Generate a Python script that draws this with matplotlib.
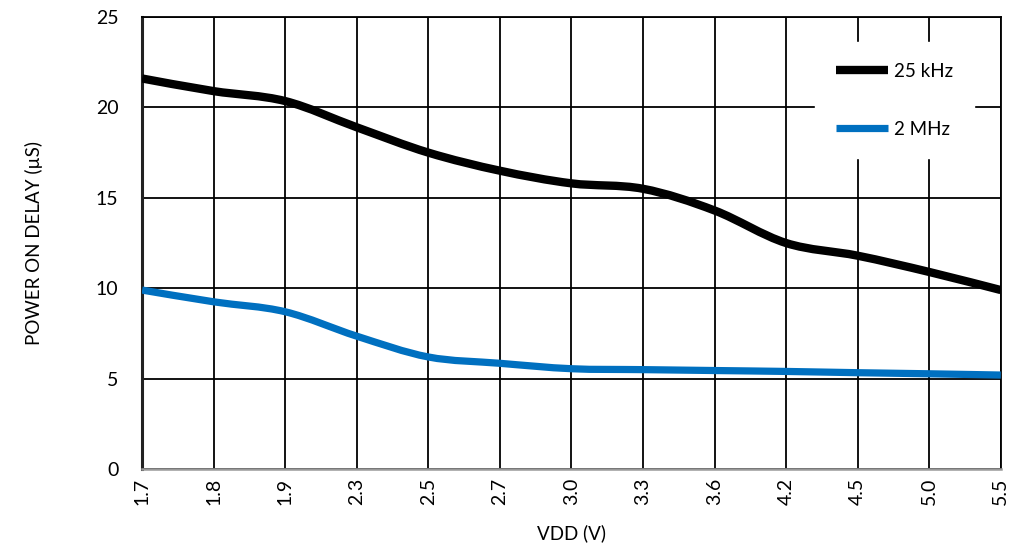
import numpy as np
import matplotlib.pyplot as plt
from matplotlib.path import Path
from matplotlib.patches import PathPatch
from matplotlib.lines import Line2D

plt.rcParams['font.family'] = ['Lato', 'DejaVu Sans']

vdd_labels = ['1.7', '1.8', '1.9', '2.3', '2.5', '2.7', '3.0', '3.3', '3.6', '4.2', '4.5', '5.0', '5.5']
delay_25khz = [21.6, 20.9, 20.35, 18.9, 17.5, 16.5, 15.8, 15.5, 14.3, 12.5, 11.8, 10.9, 9.9]
delay_2mhz = [9.9, 9.25, 8.7, 7.35, 6.2, 5.85, 5.55, 5.5, 5.45, 5.4, 5.33, 5.27, 5.2]


def smooth_path(xs, ys):
    # excel style smoothed line: cubic bezier through every point
    pts = np.column_stack([xs, ys]).astype(float)
    n = len(pts)
    verts = [pts[0]]
    codes = [Path.MOVETO]
    for i in range(n - 1):
        p0 = pts[max(i - 1, 0)]
        p1 = pts[i]
        p2 = pts[i + 1]
        p3 = pts[min(i + 2, n - 1)]
        c1 = p1 + (p2 - p0) / 6
        c2 = p2 - (p3 - p1) / 6
        verts += [c1, c2, p2]
        codes += [Path.CURVE4] * 3
    return Path(verts, codes)


fig = plt.figure(figsize=(10.15, 5.48), dpi=100)
ax = fig.add_axes([0.14, 0.144, 0.846, 0.825])

x = np.arange(len(vdd_labels))
series = [(delay_25khz, 'black', 6.0, '25 kHz'), (delay_2mhz, '#0070C0', 5.2, '2 MHz')]
handles = []
for vals, col, lw, lab in series:
    patch = PathPatch(smooth_path(x, vals), fill=False, edgecolor=col, lw=lw,
                      capstyle='butt', joinstyle='round', zorder=3)
    ax.add_patch(patch)
    handles.append(Line2D([], [], color=col, lw=lw, solid_capstyle='butt', label=lab))

ax.set_xlim(0, len(vdd_labels) - 1)
ax.set_ylim(0, 25)
ax.set_xticks(x)
ax.set_xticklabels(vdd_labels, rotation=90)
ax.set_yticks([0, 5, 10, 15, 20, 25])
ax.tick_params(axis='y', length=0, pad=17, labelsize=14)
ax.tick_params(axis='x', length=0, pad=6, labelsize=14)

ax.grid(True, color='black', lw=1.3)
ax.set_axisbelow(True)
for s in ['top', 'right']:
    ax.spines[s].set_linewidth(1.3)
ax.spines['left'].set_linewidth(2.2)
ax.spines['left'].set_color('#222222')
ax.spines['bottom'].set_linewidth(1.8)
ax.spines['bottom'].set_color('#999999')

ax.set_xlabel('VDD (V)', fontsize=13.5, labelpad=14)
ax.set_ylabel('POWER ON DELAY (µS)', fontsize=13.5, labelpad=38)

leg = ax.legend(handles=handles, loc='upper right', bbox_to_anchor=(0.9686, 0.9447),
                borderaxespad=0, fontsize=13.5, handlelength=2.8, handletextpad=0.3,
                labelspacing=2.2, borderpad=1.1, frameon=True, fancybox=False)
leg.get_frame().set_edgecolor('white')
leg.get_frame().set_facecolor('white')
leg.get_frame().set_alpha(1)

fig.savefig('out.png', dpi=100)
